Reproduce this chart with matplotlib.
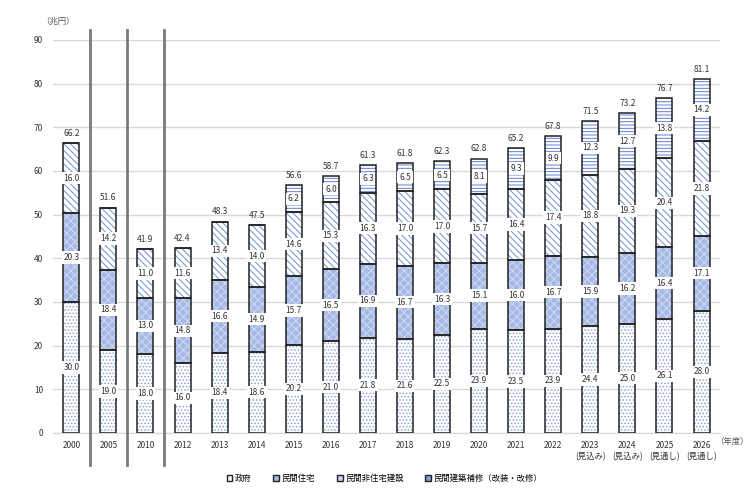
import matplotlib.pyplot as plt
import matplotlib.patches as patches
import numpy as np

plt.rcParams['font.family'] = ['Noto Sans CJK JP', 'DejaVu Sans']
plt.rcParams['hatch.linewidth'] = 0.7

years = ["2000", "2005", "2010", "2012", "2013", "2014", "2015", "2016", "2017",
         "2018", "2019", "2020", "2021", "2022", "2023\n(見込み)", "2024\n(見込み)",
         "2025\n(見通し)", "2026\n(見通し)"]
government = [30.0, 19.0, 18.0, 16.0, 18.4, 18.6, 20.2, 21.0, 21.8, 21.6, 22.5, 23.9,
              23.5, 23.9, 24.4, 25.0, 26.1, 28.0]
housing = [20.3, 18.4, 13.0, 14.8, 16.6, 14.9, 15.7, 16.5, 16.9, 16.7, 16.3, 15.1,
           16.0, 16.7, 15.9, 16.2, 16.4, 17.1]
non_residential = [16.0, 14.2, 11.0, 11.6, 13.4, 14.0, 14.6, 15.3, 16.3, 17.0, 17.0, 15.7,
                   16.4, 17.4, 18.8, 19.3, 20.4, 21.8]
renovation = [None, None, None, None, None, None, 6.2, 6.0, 6.3, 6.5, 6.5, 8.1,
              9.3, 9.9, 12.3, 12.7, 13.8, 14.2]
totals = [66.2, 51.6, 41.9, 42.4, 48.3, 47.5, 56.6, 58.7, 61.3, 61.8, 62.3, 62.8,
          65.2, 67.8, 71.5, 73.2, 76.7, 81.1]

labels = ["政府", "民間住宅", "民間非住宅建設", "民間建築補修（改装・改修）"]
series = [government, housing, non_residential, renovation]
faces = ["white", "#a6b9e4", "white", "white"]
hatch_colors = ["#8aa3da", "#d0dbf3", "#6f8fd2", "#5f80cc"]
hatches = ["." * 5, "xxxx", "\\\\\\\\\\", "-----"]

fig = plt.figure(figsize=(7.54, 4.93), dpi=100)
ax = fig.add_axes([0.07, 0.122, 0.885, 0.797])

x = np.arange(len(years))
w = 0.43
bottom = np.zeros(len(years))
for s, fc, hc, h in zip(series, faces, hatch_colors, hatches):
    vals = np.array([v if v is not None else 0 for v in s])
    ax.bar(x, vals, w, bottom=bottom, color=fc, edgecolor=hc, hatch=h, linewidth=0, zorder=2)
    ax.bar(x, vals, w, bottom=bottom, facecolor="none", edgecolor="#222222", linewidth=1.1, zorder=3)
    for i, v in enumerate(s):
        if v is None:
            continue
        ax.text(x[i], bottom[i] + v / 2, f"{v:.1f}", ha="center", va="center", fontsize=6,
                color="#333333", zorder=5,
                bbox=dict(facecolor="white", edgecolor="none", pad=1.2))
    bottom += vals

for i, t in enumerate(totals):
    ax.text(x[i], bottom[i] + 1.2, f"{t:.1f}", ha="center", va="bottom", fontsize=6,
            color="#333333", zorder=5)

# break lines between non-consecutive years
for bx in [0.5, 1.5, 2.5]:
    ax.plot([bx, bx], [-7.3, 92.3], color="#7a7a7a", linewidth=2, clip_on=False, zorder=4)

ax.set_xlim(-0.5, len(years) - 0.5)
ax.set_ylim(0, 90)
ax.set_yticks(np.arange(0, 91, 10))
ax.set_xticks(x)
ax.set_xticklabels(years, fontsize=6, color="#333333", linespacing=1.3)
ax.tick_params(axis="y", labelsize=6, labelcolor="#333333", length=0, pad=7)
ax.tick_params(axis="x", length=0, pad=6)
ax.grid(axis="y", color="#d9d9d9", linewidth=1)
ax.set_axisbelow(True)
for sp in ["top", "right", "left"]:
    ax.spines[sp].set_visible(False)
ax.spines["bottom"].set_color("#d9d9d9")

ax.text(0.008, 1.035, "（兆円）", transform=ax.transAxes, fontsize=6, color="#555555",
        ha="center", va="bottom")
fig.text(0.993, 0.105, "（年度）", fontsize=6, color="#555555", ha="right", va="center")

handles = [patches.Patch(facecolor=fc, edgecolor="#222222", linewidth=1)
           for fc in ["white", "#a6b9e4", "#c9d4ee", "#7f9ad6"]]
fig.legend(handles, labels, loc="lower center", bbox_to_anchor=(0.51, 0.005), ncol=4,
           frameon=False, fontsize=6, handlelength=0.7, handleheight=0.7,
           handletextpad=0.3, columnspacing=2.6)

fig.savefig("out.png", dpi=100)
